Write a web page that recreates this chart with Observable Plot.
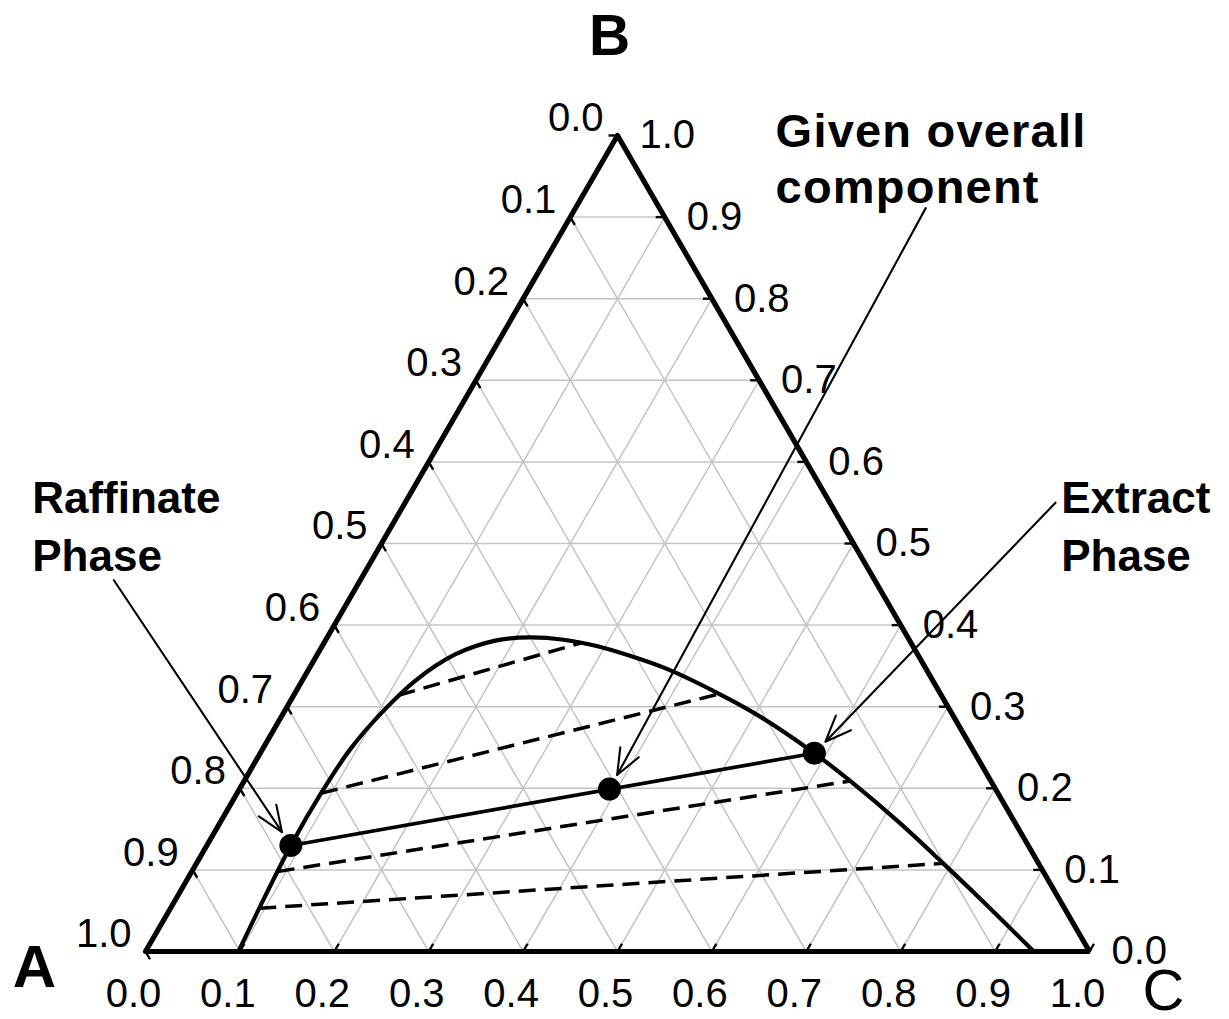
<!DOCTYPE html>
<html>
<head>
<meta charset="utf-8">
<script src="https://cdn.jsdelivr.net/npm/d3@7"></script>
<script src="https://cdn.jsdelivr.net/npm/@observablehq/plot@0.6"></script>
<style>
  html, body { margin: 0; padding: 0; background: #fff; }
  g[aria-description="wide callout"] text { letter-spacing: 1.2px; }
</style>
</head>
<body>
<div id="chart"></div>
<script>
// Ternary liquid–liquid equilibrium diagram (components A, B, C).
// Every composition is written as fractions of B and C; A = 1 − B − C.

// Tick values shared by the three sides
const tickValues = [0.0, 0.1, 0.2, 0.3, 0.4, 0.5, 0.6, 0.7, 0.8, 0.9, 1.0];
// Interior grid lines
const gridValues = [0.1, 0.2, 0.3, 0.4, 0.5, 0.6, 0.7, 0.8, 0.9];

// Binodal curve, from the A-rich base point round to the C-rich base point
const binodalB = [0.000, 0.066, 0.130, 0.194, 0.248, 0.293, 0.332, 0.364, 0.381, 0.385, 0.382,
                  0.374, 0.362, 0.346, 0.317, 0.290, 0.243, 0.209, 0.157, 0.108, 0.061, 0.000];
const binodalC = [0.0985, 0.093, 0.089, 0.089, 0.093, 0.104, 0.120, 0.146, 0.180, 0.215, 0.252,
                  0.292, 0.333, 0.380, 0.447, 0.503, 0.587, 0.642, 0.721, 0.791, 0.857, 0.941];

// Tie lines: raffinate end and extract end
const tieRaffinateB = [0.314, 0.194, 0.130, 0.098, 0.053];
const tieRaffinateC = [0.111, 0.089, 0.089, 0.091, 0.094];
const tieExtractB   = [0.378, 0.316, 0.243, 0.209, 0.108];
const tieExtractC   = [0.272, 0.451, 0.587, 0.642, 0.791];
const givenTie = 2; // the tie line through the overall composition

// Raffinate phase, overall mixture, extract phase
const phaseB = [0.130, 0.199, 0.243];
const phaseC = [0.089, 0.392, 0.587];

// Callouts, one per phase point above
const noteText  = ["Raffinate\nPhase", "Given overall\ncomponent", "Extract\nPhase"];
const noteSize  = [44, 47, 44];
const noteLead  = [1.32, 1.19, 1.32];
const noteTextB = [0.466, 0.917, 0.466];   // start of the last text line
const noteTextC = [-0.353, 0.209, 0.737];
const noteTailB = [0.455, 0.911, 0.550];   // tail of the leader arrow
const noteTailC = [-0.261, 0.371, 0.689];

// Corner names
const cornerNames = ["A", "B", "C"];

// ---- ternary → plane coordinates ----
const SQ = Math.sqrt(3) / 2;
const tx = (b, c) => c + b / 2;
const ty = (b) => b * SQ;

const corners = [{b: 0, c: 0}, {b: 1, c: 0}, {b: 0, c: 1}].map((d, i) => ({name: cornerNames[i], x: tx(d.b, d.c), y: ty(d.b)}));
const frame = [corners[0], corners[1], corners[2], corners[0], corners[1]];

const grid = gridValues.flatMap(v => [
  {x1: tx(v, 0), y1: ty(v), x2: tx(v, 1 - v), y2: ty(v)},                 // constant B
  {x1: tx(0, v), y1: ty(0), x2: tx(1 - v, v), y2: ty(1 - v)},             // constant C
  {x1: tx(1 - v, 0), y1: ty(1 - v), x2: tx(0, 1 - v), y2: ty(0)}          // constant A
]);

const TICK = 0.0095;
const ticks = tickValues.flatMap(v => [
  {x1: tx(1 - v, 0), y1: ty(1 - v), x2: tx(1 - v - TICK, TICK), y2: ty(1 - v - TICK)},  // A side
  {x1: tx(v, 1 - v), y1: ty(v), x2: tx(v, 1 - v - TICK), y2: ty(v)},                    // B side
  {x1: tx(0, v), y1: ty(0), x2: tx(TICK, v), y2: ty(TICK)}                              // C side
]);

const binodal = binodalB.map((b, i) => ({x: tx(b, binodalC[i]), y: ty(b)}));
const ties = tieRaffinateB.map((b, i) => ({
  x1: tx(b, tieRaffinateC[i]), y1: ty(b),
  x2: tx(tieExtractB[i], tieExtractC[i]), y2: ty(tieExtractB[i]),
  given: i === givenTie
}));
const phases = phaseB.map((b, i) => ({x: tx(b, phaseC[i]), y: ty(b)}));
const notes = noteText.map((t, i) => ({
  text: t, size: noteSize[i], lead: noteLead[i],
  x: tx(noteTextB[i], noteTextC[i]), y: ty(noteTextB[i]),
  x1: tx(noteTailB[i], noteTailC[i]), y1: ty(noteTailB[i]),
  x2: phases[i].x, y2: phases[i].y
}));

const fmt = d3.format(".1f");
const numFont = 40;

const chart = Plot.plot({
  width: 1229,
  height: 1019,
  marginLeft: 145,
  marginRight: 140,
  marginTop: 135,
  marginBottom: 68,
  x: {domain: [0, 1], axis: null},
  y: {domain: [0, SQ], axis: null},
  style: {fontFamily: "'Liberation Sans', Arial, sans-serif", background: "white", overflow: "visible", color: "black"},
  marks: [
    Plot.link(grid, {x1: "x1", y1: "y1", x2: "x2", y2: "y2", stroke: "#c4c4c4", strokeWidth: 1.5}),
    Plot.link(ticks, {x1: "x1", y1: "y1", x2: "x2", y2: "y2", stroke: "black", strokeWidth: 2.4}),
    Plot.line(frame, {x: "x", y: "y", stroke: "black", strokeWidth: 5.2, strokeLinejoin: "miter"}),
    Plot.link(ties.filter(d => !d.given), {x1: "x1", y1: "y1", x2: "x2", y2: "y2", stroke: "black",
      strokeWidth: 3.5, strokeDasharray: "17,9"}),
    Plot.link(ties.filter(d => d.given), {x1: "x1", y1: "y1", x2: "x2", y2: "y2", stroke: "black", strokeWidth: 3.6}),
    Plot.line(binodal, {x: "x", y: "y", curve: "catmull-rom", stroke: "black", strokeWidth: 4.2}),
    Plot.dot(phases, {x: "x", y: "y", r: 11.5, fill: "black", stroke: "none"}),
    Plot.arrow(notes, {x1: "x1", y1: "y1", x2: "x2", y2: "y2", stroke: "black", strokeWidth: 2.1,
      headLength: 20, headAngle: 44, insetEnd: 16}),
    // side labels: A fraction on the left, B fraction on the right, C fraction along the base
    Plot.text(tickValues, {x: v => tx(1 - v, 0), y: v => ty(1 - v), text: fmt, textAnchor: "end",
      dx: -14, dy: -17, fontSize: numFont}),
    Plot.text(tickValues, {x: v => tx(v, 1 - v), y: v => ty(v), text: fmt, textAnchor: "start",
      dx: 22, fontSize: numFont}),
    Plot.text(tickValues, {x: v => tx(0, v), y: () => 0, text: fmt, dx: -12, dy: 43, fontSize: numFont}),
    // callouts
    ...notes.map((n, i) => Plot.text([n], {x: "x", y: "y", text: "text", textAnchor: "start", lineAnchor: "bottom",
      lineHeight: n.lead, fontSize: n.size, fontWeight: "bold",
      ariaDescription: i === 1 ? "wide callout" : "callout"})),
    // corner names
    Plot.text([corners[0]], {x: "x", y: "y", text: "name", lineAnchor: "bottom", dx: -111, dy: 35, fontSize: 60, fontWeight: "bold"}),
    Plot.text([corners[1]], {x: "x", y: "y", text: "name", lineAnchor: "bottom", dx: -8, dy: -81, fontSize: 57, fontWeight: "bold"}),
    Plot.text([corners[2]], {x: "x", y: "y", text: "name", lineAnchor: "bottom", dx: 74, dy: 58, fontSize: 58})
  ]
});

document.getElementById("chart").appendChild(chart);
</script>
</body>
</html>
